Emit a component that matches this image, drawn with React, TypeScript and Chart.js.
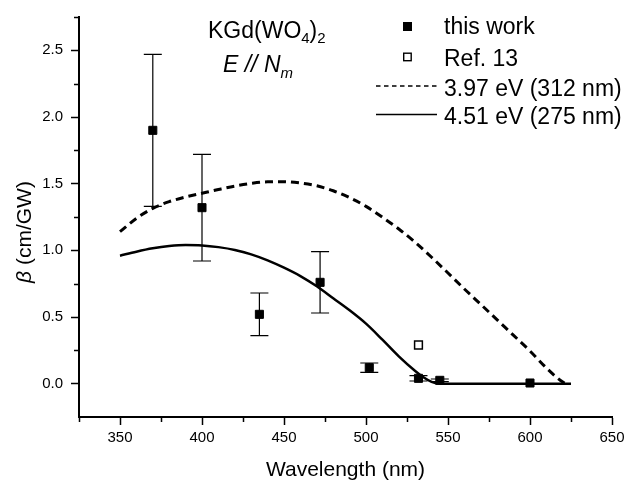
import React, { useEffect, useRef } from "react";
import { Chart, registerables } from "chart.js";

Chart.register(...registerables);

// ---- data ----
const workX = [370, 400, 435, 472, 502, 532, 545, 600];
const workY = [1.9, 1.32, 0.52, 0.76, 0.12, 0.04, 0.025, 0.005];
const workErr = [0.57, 0.4, 0.16, 0.23, 0.035, 0.02, 0.01, 0];

const refX = [532];
const refY = [0.29];

const curve397X = [350, 360, 370, 380, 390, 400, 410, 420, 430, 440, 450, 460, 470, 480, 490, 500, 510, 520, 530, 540, 550, 560, 570, 580, 590, 600, 610, 620, 622];
const curve397Y = [1.14, 1.24, 1.315, 1.365, 1.4, 1.428, 1.456, 1.482, 1.502, 1.514, 1.515, 1.505, 1.484, 1.447, 1.395, 1.33, 1.248, 1.16, 1.06, 0.948, 0.83, 0.71, 0.595, 0.478, 0.362, 0.245, 0.118, 0.012, 0];

const curve451X = [350, 360, 370, 380, 390, 400, 410, 420, 430, 440, 450, 460, 470, 480, 490, 500, 510, 520, 530, 535, 540, 545, 625];
const curve451Y = [0.96, 0.99, 1.015, 1.032, 1.04, 1.037, 1.024, 1.003, 0.97, 0.925, 0.87, 0.807, 0.73, 0.64, 0.55, 0.45, 0.33, 0.205, 0.095, 0.048, 0.014, 0, 0];

const xMajorTicks = [350, 400, 450, 500, 550, 600, 650];
const xMinorTicks = [325, 375, 425, 475, 525, 575, 625];
const yMajorTicks = [0, 0.5, 1.0, 1.5, 2.0, 2.5];
const yMinorTicks = [0.25, 0.75, 1.25, 1.75, 2.25, 2.75];

const legendLabels = ["this work", "Ref. 13", "3.97 eV (312 nm)", "4.51 eV (275 nm)"];

const FONT = "'Liberation Sans', Arial, Helvetica, sans-serif";

const pts = (xs: number[], ys: number[]) => xs.map((x, i) => ({ x, y: ys[i] }));

const decorPlugin = {
  id: "decor",
  afterDatasetsDraw(chart: any) {
    const ctx = chart.ctx as CanvasRenderingContext2D;
    const xs = chart.scales.x;
    const ys = chart.scales.y;
    ctx.save();
    // error bars
    ctx.strokeStyle = "#000";
    ctx.lineWidth = 1.2;
    workX.forEach((xv, i) => {
      const e = workErr[i];
      if (!e) return;
      const px = xs.getPixelForValue(xv);
      const hi = ys.getPixelForValue(workY[i] + e);
      const lo = ys.getPixelForValue(workY[i] - e);
      ctx.beginPath();
      ctx.moveTo(px, hi);
      ctx.lineTo(px, lo);
      ctx.moveTo(px - 9, hi);
      ctx.lineTo(px + 9, hi);
      ctx.moveTo(px - 9, lo);
      ctx.lineTo(px + 9, lo);
      ctx.stroke();
    });
    ctx.restore();
  },
  afterDraw(chart: any) {
    const ctx = chart.ctx as CanvasRenderingContext2D;
    const xs = chart.scales.x;
    const ys = chart.scales.y;
    const area = chart.chartArea;
    ctx.save();
    // minor ticks
    ctx.strokeStyle = "#000";
    ctx.lineWidth = 1.5;
    ctx.beginPath();
    xMinorTicks.forEach((v) => {
      const px = Math.round(xs.getPixelForValue(v)) + 0.5;
      ctx.moveTo(px, area.bottom);
      ctx.lineTo(px, area.bottom + 5);
    });
    yMinorTicks.forEach((v) => {
      const py = Math.round(ys.getPixelForValue(v)) + 0.5;
      ctx.moveTo(area.left - 5, py);
      ctx.lineTo(area.left, py);
    });
    ctx.stroke();

    ctx.fillStyle = "#000";
    // axis titles
    ctx.font = `21px ${FONT}`;
    ctx.textAlign = "center";
    ctx.textBaseline = "alphabetic";
    ctx.fillText("Wavelength (nm)", (area.left + area.right) / 2, 476);

    ctx.save();
    ctx.translate(31, 232);
    ctx.rotate(-Math.PI / 2);
    ctx.textAlign = "left";
    ctx.font = `italic 21px ${FONT}`;
    const beta = "β";
    const rest = " (cm/GW)";
    const wb = ctx.measureText(beta).width;
    ctx.font = `21px ${FONT}`;
    const wr = ctx.measureText(rest).width;
    const start = -(wb + wr) / 2;
    ctx.font = `italic 21px ${FONT}`;
    ctx.fillText(beta, start, 0);
    ctx.font = `21px ${FONT}`;
    ctx.fillText(rest, start + wb, 0);
    ctx.restore();

    // annotation
    ctx.textAlign = "left";
    let x = 208;
    const seg = (t: string, font: string, dy: number) => {
      ctx.font = font;
      ctx.fillText(t, x, dy);
      x += ctx.measureText(t).width;
    };
    seg("KGd(WO", `23px ${FONT}`, 38);
    seg("4", `15px ${FONT}`, 43);
    seg(")", `23px ${FONT}`, 38);
    seg("2", `15px ${FONT}`, 43);
    x = 223;
    seg("E // N", `italic 23px ${FONT}`, 72);
    seg("m", `italic 15px ${FONT}`, 78);

    // legend
    ctx.font = `23px ${FONT}`;
    const tx = 444;
    const baselines = [33.5, 66, 95.5, 123.5];
    // filled square
    ctx.fillRect(403, 22, 9, 9);
    // open square
    ctx.lineWidth = 1.4;
    ctx.strokeRect(403.7, 53.2, 7.5, 7.5);
    // dashed line
    ctx.lineWidth = 1.6;
    ctx.setLineDash([4.5, 3.5]);
    ctx.beginPath();
    ctx.moveTo(376, 86);
    ctx.lineTo(437, 86);
    ctx.stroke();
    ctx.setLineDash([]);
    ctx.beginPath();
    ctx.moveTo(376, 114.5);
    ctx.lineTo(437, 114.5);
    ctx.stroke();
    ctx.font = `23px ${FONT}`;
    legendLabels.forEach((l, i) => ctx.fillText(l, tx, baselines[i]));
    ctx.restore();
  },
};

export default function App() {
  const ref = useRef<HTMLCanvasElement | null>(null);
  useEffect(() => {
    if (!ref.current) return;
    const chart = new Chart(ref.current, {
      type: "scatter",
      data: {
        datasets: [
          {
            label: legendLabels[0],
            data: pts(workX, workY),
            pointStyle: "rect",
            pointRadius: 5.7,
            backgroundColor: "#000",
            borderColor: "#000",
            borderWidth: 1,
            showLine: false,
            order: 0,
          },
          {
            label: legendLabels[1],
            data: pts(refX, refY),
            pointStyle: "rect",
            pointRadius: 5.5,
            backgroundColor: "#fff",
            borderColor: "#000",
            borderWidth: 1.5,
            showLine: false,
            order: 0,
          },
          {
            label: legendLabels[2],
            data: pts(curve397X, curve397Y),
            showLine: true,
            pointRadius: 0,
            borderColor: "#000",
            borderWidth: 3,
            borderDash: [8, 5],
            cubicInterpolationMode: "monotone",
            fill: false,
            order: 1,
          },
          {
            label: legendLabels[3],
            data: pts(curve451X, curve451Y),
            showLine: true,
            pointRadius: 0,
            borderColor: "#000",
            borderWidth: 2.5,
            cubicInterpolationMode: "monotone",
            fill: false,
            order: 1,
          },
        ] as any,
      },
      options: {
        animation: false,
        responsive: false,
        devicePixelRatio: 1,
        events: [],
        layout: { padding: { left: 0, right: 19, top: 13, bottom: 0 }, autoPadding: false } as any,
        plugins: { legend: { display: false }, tooltip: { enabled: false } },
        scales: {
          x: {
            type: "linear",
            min: 325,
            max: 650,
            afterBuildTicks: (s: any) => {
              s.ticks = xMajorTicks.map((v) => ({ value: v }));
            },
            afterFit: (s: any) => {
              s.height = 63;
            },
            grid: { display: true, drawOnChartArea: false, drawTicks: true, tickLength: 8, tickWidth: 1.5, tickColor: "#000" },
            border: { display: true, color: "#000", width: 2 },
            ticks: { font: { family: FONT, size: 15 }, color: "#000", padding: 4, maxRotation: 0, autoSkip: false, callback: (v: any) => String(v) },
          },
          y: {
            type: "linear",
            min: -0.25,
            max: 2.75,
            afterBuildTicks: (s: any) => {
              s.ticks = yMajorTicks.map((v) => ({ value: v }));
            },
            afterFit: (s: any) => {
              s.width = 79;
            },
            grid: { display: true, drawOnChartArea: false, drawTicks: true, tickLength: 8, tickWidth: 1.5, tickColor: "#000" },
            border: { display: true, color: "#000", width: 2 },
            ticks: { font: { family: FONT, size: 15 }, color: "#000", padding: 8, autoSkip: false, callback: (v: any) => Number(v).toFixed(1) },
          },
        },
      } as any,
      plugins: [decorPlugin],
    });
    return () => chart.destroy();
  }, []);
  return (
    <div style={{ position: "fixed", left: 0, top: 0, width: 631, height: 480, background: "#fff" }}>
      <canvas ref={ref} width={631} height={480} style={{ display: "block" }} />
    </div>
  );
}
